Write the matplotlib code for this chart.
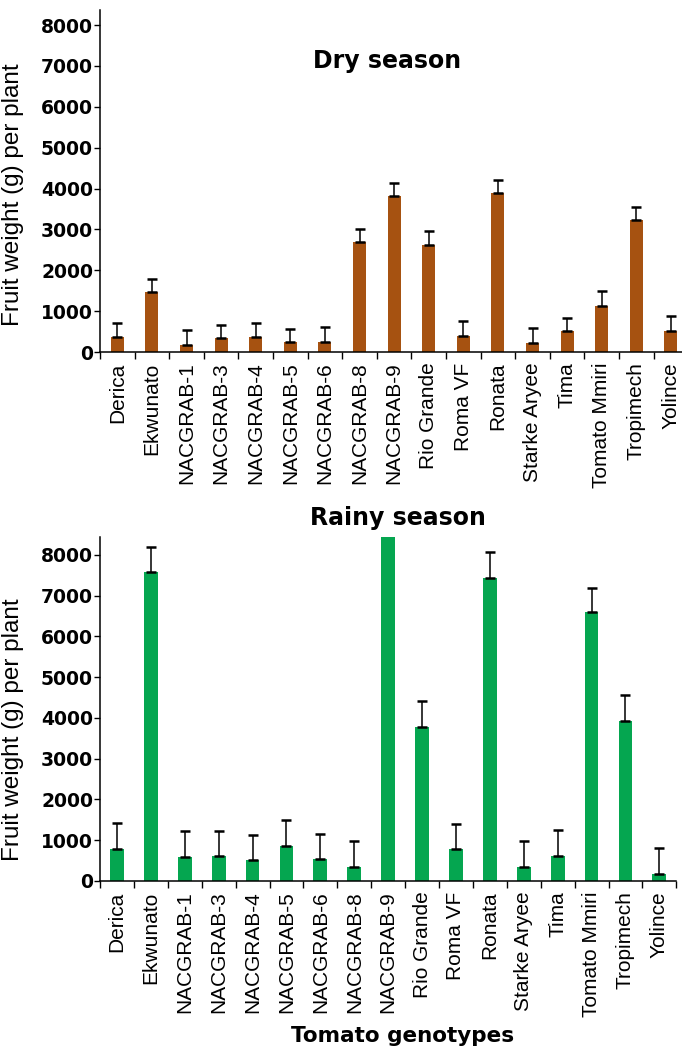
import numpy as np
import matplotlib
matplotlib.use('Agg')
import matplotlib.pyplot as plt
from matplotlib.ticker import FixedLocator

genotypes = ['Derica', 'Ekwunato', 'NACGRAB-1', 'NACGRAB-3', 'NACGRAB-4', 'NACGRAB-5',
             'NACGRAB-6', 'NACGRAB-8', 'NACGRAB-9', 'Rio Grande', 'Roma VF', 'Ronata',
             'Starke Aryee', 'Tima', 'Tomato Mmiri', 'Tropimech', 'Yolince']

# fruit weight (g) per plant, means and upper error (SE)
dry_mean = [370, 1460, 165, 340, 370, 240, 240, 2680, 3810, 2615, 400, 3880, 230, 505, 1125, 3230, 505]
dry_err = [330, 330, 365, 330, 330, 320, 360, 335, 330, 335, 365, 325, 365, 335, 360, 330, 365]

rainy_mean = [790, 7575, 580, 620, 515, 857, 547, 350, 8900, 3790, 790, 7445, 350, 620, 6596, 3925, 180]
rainy_err = [640, 615, 645, 605, 610, 645, 613, 630, 600, 635, 605, 635, 630, 637, 594, 645, 636]

dry_color = '#A65211'
rainy_color = '#05A650'

fig = plt.figure(figsize=(6.82, 10.5), dpi=100)

# axes placed in figure fractions (pixels / figure size)
ax = []
ax.append(fig.add_axes([100/682, 1-352/1050, 17*34.6/682, 342/1050]))   # 0 - dry season
ax.append(fig.add_axes([100/682, 1-881/1050, 17*33.9/682, 344/1050]))   # 1 - rainy season

x = np.arange(len(genotypes))

def draw(a, mean, err, color, width, ytop):
    a.bar(x, mean, width=width, color=color, zorder=2)
    a.errorbar(x, mean, yerr=[np.zeros(len(err)), err], fmt='none', ecolor='black',
               elinewidth=1.1, capsize=3.6, capthick=1.8, zorder=3)
    a.set_xlim(-0.5, len(genotypes) - 0.5)
    a.set_ylim(0, ytop)
    a.set_yticks(np.arange(0, 8001, 1000))
    a.set_xticks(x)
    a.set_xticklabels(genotypes, rotation=90, fontsize=15, family='Liberation Sans')
    a.xaxis.set_minor_locator(FixedLocator(np.arange(-0.5, len(genotypes), 1.0)))
    a.tick_params(axis='x', which='major', length=0, pad=7.5)
    a.tick_params(axis='x', which='minor', length=5, width=1, direction='out')
    a.tick_params(axis='y', length=4, width=1, direction='out', pad=1)
    for lab in a.get_yticklabels():
        lab.set_fontweight('bold')
        lab.set_fontsize(13.5)
    for s in ['top', 'right']:
        a.spines[s].set_visible(False)
    for s in ['left', 'bottom']:
        a.spines[s].set_linewidth(1.1)
    a.set_ylabel('Fruit weight (g) per plant', fontsize=17.5, family='Liberation Sans')

draw(ax[0], dry_mean, dry_err, dry_color, 0.37, 8370)
draw(ax[1], rainy_mean, rainy_err, rainy_color, 0.41, 8440)

ax[0].yaxis.set_label_coords(-0.129, 0.46)
ax[1].yaxis.set_label_coords(-0.132, 0.44)

ax[0].text(0.488, 0.85, 'Dry season', transform=ax[0].transAxes, ha='center', va='center',
           fontsize=17, fontweight='bold')
fig.text(398/682, 1-518/1050, 'Rainy season', ha='center', va='center',
         fontsize=17, fontweight='bold')
fig.text(403/682, 1-1036/1050, 'Tomato genotypes', ha='center', va='center',
         fontsize=15.5, fontweight='bold')

plt.savefig('out.png', dpi=100)
